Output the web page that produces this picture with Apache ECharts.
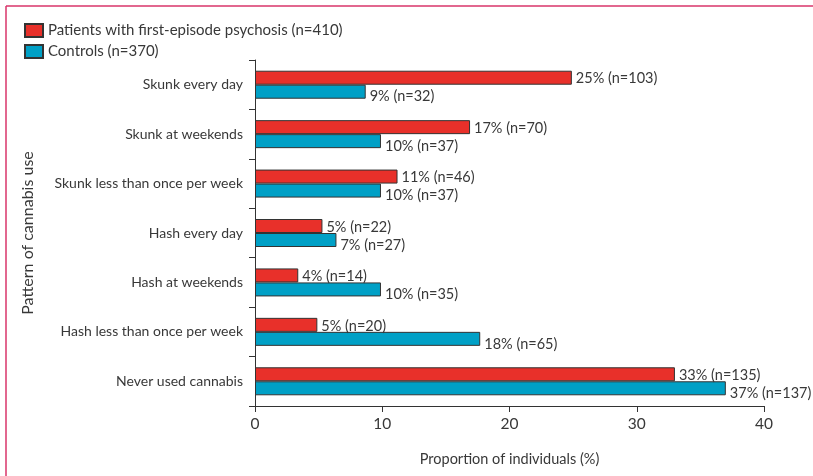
<!DOCTYPE html>
<html>
<head>
<meta charset="utf-8">
<script src="https://cdn.jsdelivr.net/npm/echarts@6/dist/echarts.min.js"></script>
<style>
    html, body { margin: 0; padding: 0; background: #fff; }
    #chart { width: 813px; height: 476px; }
</style>
</head>
<body>
<div id="chart"></div>
<script>
// categories, top to bottom
let categories = [
    'Skunk every day',
    'Skunk at weekends',
    'Skunk less than once per week',
    'Hash every day',
    'Hash at weekends',
    'Hash less than once per week',
    'Never used cannabis'
]
let seriesNames = ['Patients with first-episode psychosis (n=410)', 'Controls (n=370)']
// bar lengths (%)
let patientValues = [24.9, 16.9, 11.2, 5.3, 3.4, 4.9, 33.0]
let controlValues = [8.7, 9.9, 9.9, 6.4, 9.9, 17.7, 37.0]
// printed labels
let patientLabels = ['25% (n=103)', '17% (n=70)', '11% (n=46)', '5% (n=22)', '4% (n=14)', '5% (n=20)', '33% (n=135)']
let controlLabels = ['9% (n=32)', '10% (n=37)', '10% (n=37)', '7% (n=27)', '10% (n=35)', '18% (n=65)', '37% (n=137)']
let xTicks = [0, 10, 20, 30, 40]

let font = 'Lato'
let textColor = '#383838'

let myChart = echarts.init(document.getElementById('chart'))
myChart.setOption({
    animation: false,
    textStyle: {fontFamily: font},
    graphic: [
        {type: 'line', shape: {x1: 6, y1: 6, x2: 813, y2: 6}, style: {stroke: '#d9346a', lineWidth: 1.5}},
        {type: 'line', shape: {x1: 6, y1: 6, x2: 6, y2: 476}, style: {stroke: '#d9346a', lineWidth: 1.5}}
    ],
    legend: {
        left: 19,
        top: 18,
        orient: 'vertical',
        itemWidth: 18,
        itemHeight: 13,
        itemGap: 6,
        icon: 'rect',
        textStyle: {fontFamily: font, fontSize: 15, color: textColor},
        data: seriesNames
    },
    grid: {left: 255, right: 49, top: 60, bottom: 70, containLabel: false},
    xAxis: {
        type: 'value',
        min: xTicks[0],
        max: xTicks[xTicks.length - 1],
        interval: 10,
        name: 'Proportion of individuals (%)',
        nameLocation: 'middle',
        nameGap: 46,
        nameTextStyle: {fontFamily: font, fontSize: 14.5, color: textColor},
        axisLine: {show: true, lineStyle: {color: '#333', width: 1}},
        axisTick: {show: true, length: 6, lineStyle: {color: '#333'}},
        axisLabel: {fontFamily: font, fontSize: 15.5, color: textColor, margin: 10},
        splitLine: {show: false}
    },
    yAxis: {
        type: 'category',
        inverse: true,
        data: categories,
        name: 'Pattern of cannabis use',
        nameLocation: 'middle',
        nameGap: 219,
        nameRotate: 90,
        nameTextStyle: {fontFamily: font, fontSize: 16, color: textColor},
        axisLine: {show: true, lineStyle: {color: '#333', width: 1}},
        axisTick: {show: true, length: 6, lineStyle: {color: '#333'}},
        axisLabel: {fontFamily: font, fontSize: 14, color: textColor, margin: 12}
    },
    series: [
        {
            name: seriesNames[0],
            type: 'bar',
            data: patientValues,
            barWidth: 14,
            barGap: '0%',
            itemStyle: {color: '#e8302a', borderColor: '#333', borderWidth: 1},
            label: {
                show: true,
                position: 'right',
                distance: 4,
                offset: [0, 1],
                fontFamily: font,
                fontSize: 14.5,
                color: textColor,
                formatter: p => patientLabels[p.dataIndex]
            }
        },
        {
            name: seriesNames[1],
            type: 'bar',
            data: controlValues,
            barWidth: 14,
            barGap: '0%',
            itemStyle: {color: '#00a0c6', borderColor: '#333', borderWidth: 1},
            label: {
                show: true,
                position: 'right',
                distance: 4,
                offset: [0, 5],
                fontFamily: font,
                fontSize: 14.5,
                color: textColor,
                formatter: p => controlLabels[p.dataIndex]
            }
        }
    ]
})
</script>
</body>
</html>
